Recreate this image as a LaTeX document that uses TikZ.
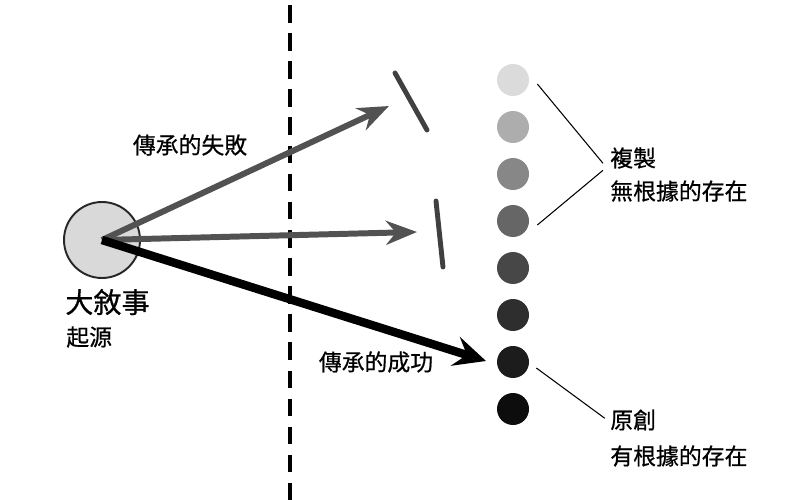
\documentclass[tikz,border=0pt]{standalone}
\usepackage{fontspec}
\newfontfamily\cjk[FakeBold=0.6]{Noto Sans CJK TC}
\usetikzlibrary{positioning, arrows.meta}

\begin{document}
\begin{tikzpicture}[x=0.2mm, y=-0.2mm,
    lbl/.style={font=\cjk\fontsize{13}{15}\selectfont, inner sep=0pt},
    dot/.style={circle, inner sep=0pt, minimum size=6.4mm},
    fail/.style={draw=black!68, line width=3.4pt, -{Stealth[length=6.2mm, width=4.8mm, inset=2mm]}},
    win/.style={draw=black, line width=4.8pt, -{Stealth[length=6.4mm, width=6mm, inset=2.4mm]}},
    wall/.style={draw=black!75, line width=2.8pt, line cap=round},
    pointer/.style={draw=black, line width=0.6pt}]
    \useasboundingbox (0,0) rectangle (800,500);

    % Define nodes
    \node[circle, draw=black!85, line width=1.1pt, fill=black!15, minimum size=15.2mm, inner sep=0pt] (src) at (102,240) {};
    \node[lbl, font=\cjk\fontsize{16}{18}\selectfont, anchor=west] (story) at (65,302) {大敘事};
    \node[lbl, anchor=west] (origin) at (66,337) {起源};
    \node[lbl] (failtxt) at (190,145) {傳承的失敗};
    \node[lbl] (wintxt) at (376,362) {傳承的成功};

    \foreach \i/\s in {1/14,2/32,3/47,4/60,5/72,6/82,7/89,8/95}
        \node[dot, fill=black!\s] (d\i) at (513, {80+(\i-1)*47}) {};

    \node[lbl, anchor=west] (copy) at (610,158) {複製};
    \node[lbl, anchor=west] (copydesc) at (610,191) {無根據的存在};
    \node[lbl, anchor=west] (orig) at (610,420) {原創};
    \node[lbl, anchor=west] (origdesc) at (610,456) {有根據的存在};

    \coordinate (t1) at (389,106);
    \coordinate (t2) at (417,232);
    \coordinate (t3) at (486,361);

    % Draw edges
    \draw[line width=2.3pt, dash pattern=on 10pt off 6pt] (290,5) -- (290,500);
    \draw[fail] (src.center) -- (t1);
    \draw[fail] (src.center) -- (t2);
    \draw[win] (src.center) -- (t3);
    \draw[wall] (395,73) -- (427,130);
    \draw[wall] (436,201) -- (443,267);

    \draw[pointer] (d1.east) ++(8,4) -- ([xshift=-4pt, yshift=-3pt]copy.west);
    \draw[pointer] (d4.east) ++(8,4) -- ([xshift=-4pt, yshift=-7pt]copy.west);
    \draw[pointer] (d7.east) ++(7,6) -- ([xshift=-3pt, yshift=1pt]orig.west);
\end{tikzpicture}
\end{document}
